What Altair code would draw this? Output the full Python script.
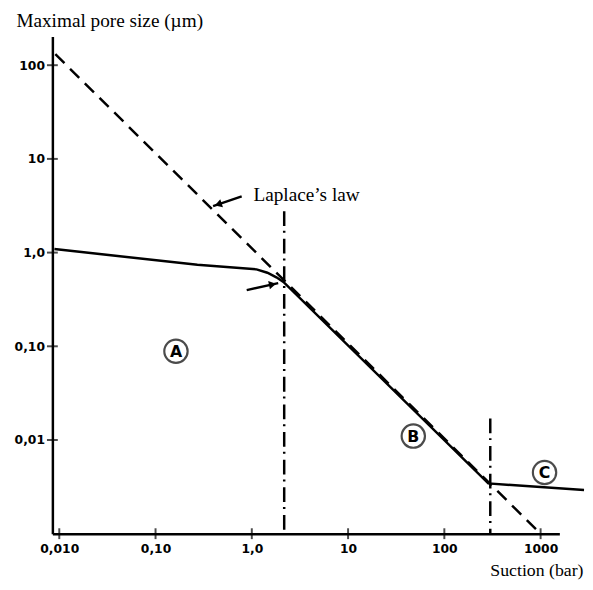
import altair as alt
import pandas as pd
import numpy as np

# ---- data ----
x_ticks = [0.01, 0.1, 1, 10, 100, 1000]
x_tick_labels = ["0,010", "0,10", "1,0", "10", "100", "1000"]
y_ticks = [100, 10, 1, 0.1, 0.01]
y_tick_labels = ["100", "10", "1,0", "0,10", "0,01"]

# measured pore-size curve (solid)
solid_suction = [0.0089, 0.272, 1.12, 1.45, 1.8, 2.13, 286, 2825]
solid_pore = [1.09, 0.743, 0.662, 0.61, 0.545, 0.487, 0.00344, 0.00292]

# Laplace's law (dashed)
laplace_suction = [0.0091, 1000]
laplace_pore = [131, 0.001]

# dash-dot boundaries between zones
vline_suction = [2.17, 300]
vline_top = [2.77, 0.017]
vline_bottom = [0.001, 0.001]

# zone markers
zone_letters = ["A", "B", "C"]
zone_suction = [0.163, 47.6, 1099]
zone_pore = [0.0886, 0.011, 0.0045]

# annotation label + arrows
label_text = ["Laplace\u2019s law"]
label_suction = [1.04]
label_pore = [3.59]
arrow_x1 = [0.785, 0.885]
arrow_y1 = [3.98, 0.398]
arrow_x2 = [0.396, 1.88]
arrow_y2 = [3.13, 0.472]
arrow_angle = [251, 78]

x_domain = [0.00848, 1566]
y_domain = [0.001, 202]

# ---- helpers ----
def label_expr(values, labels):
    expr = "''"
    for v, l in reversed(list(zip(values, labels))):
        k = int(round(np.log10(v)))
        expr = f"round(log(datum.value)/LN10) == {k} ? '{l}' : ({expr})"
    return expr

xs = alt.Scale(type="log", domain=x_domain, nice=False)
ys = alt.Scale(type="log", domain=y_domain, nice=False)

solid_df = pd.DataFrame({"s": solid_suction, "d": solid_pore})
lap_df = pd.DataFrame({"s": laplace_suction, "d": laplace_pore})
vl_df = pd.DataFrame({"s": vline_suction, "t": vline_top, "b": vline_bottom})
zone_df = pd.DataFrame({"s": zone_suction, "d": zone_pore, "l": zone_letters})
lab_df = pd.DataFrame({"s": label_suction, "d": label_pore, "l": label_text})
arr_df = pd.DataFrame({"x1": arrow_x1, "y1": arrow_y1, "x2": arrow_x2, "y2": arrow_y2, "a": arrow_angle})
f = 0.18
arr_df["hx"] = 10 ** (np.log10(arr_df.x2) - f * (np.log10(arr_df.x2) - np.log10(arr_df.x1)))
arr_df["hy"] = 10 ** (np.log10(arr_df.y2) - f * (np.log10(arr_df.y2) - np.log10(arr_df.y1)))
xt_df = pd.DataFrame({"v": x_ticks, "b": [y_domain[0]] * len(x_ticks)})
yt_df = pd.DataFrame({"v": y_ticks, "b": [x_domain[0]] * len(y_ticks)})

x_axis = alt.Axis(
    values=x_ticks, labelExpr=label_expr(x_ticks, x_tick_labels), ticks=False, grid=False,
    domainColor="black", domainWidth=2.5, labelFont="DejaVu Sans", labelFontWeight="bold",
    labelFontSize=12.5, labelColor="black", labelPadding=9, labelFlush=False,
    title="Suction (bar)", titleFont="Liberation Serif", titleFontSize=18, titleFontWeight="normal",
    titleColor="black", titleAlign="right", titleBaseline="alphabetic", titleX=538, titleY=42,
    titleAnchor="end",
)
y_axis = alt.Axis(
    values=y_ticks, labelExpr=label_expr(y_ticks, y_tick_labels), ticks=False, grid=False,
    domainColor="black", domainWidth=2.5, labelFont="DejaVu Sans", labelFontWeight="bold",
    labelFontSize=12.5, labelColor="black", labelPadding=8, labelFlush=False,
    title="Maximal pore size (\u00b5m)", titleFont="Liberation Serif", titleFontSize=19.5,
    titleFontWeight="normal", titleColor="black", titleAngle=0, titleAlign="left",
    titleBaseline="alphabetic", titleX=-37, titleY=-10, titleAnchor="start",
)

X = lambda fld: alt.X(fld, scale=xs, axis=x_axis)
Y = lambda fld: alt.Y(fld, scale=ys, axis=y_axis)

solid = alt.Chart(solid_df).mark_line(color="black", strokeWidth=2.5).encode(
    x=X("s:Q"), y=Y("d:Q"),
)
lap = alt.Chart(lap_df).mark_line(color="black", strokeWidth=2.5, strokeDash=[13, 8]).encode(
    x=X("s:Q"), y=Y("d:Q")
)
vlines = alt.Chart(vl_df).mark_rule(color="black", strokeWidth=2.5, strokeDash=[15, 5, 2, 6]).encode(
    x=X("s:Q"), y=Y("t:Q"), y2="b:Q"
)
xticks = alt.Chart(xt_df).mark_tick(orient="vertical", size=11, thickness=2, color="black").encode(
    x=X("v:Q"), y=Y("b:Q")
)
yticks = alt.Chart(yt_df).mark_tick(orient="horizontal", size=11, thickness=2, color="black").encode(
    y=Y("v:Q"), x=X("b:Q")
)
circles = alt.Chart(zone_df).mark_point(shape="circle", filled=False, size=560, strokeWidth=2.2, color="black").encode(
    x=X("s:Q"), y=Y("d:Q")
)
letters = alt.Chart(zone_df).mark_text(font="DejaVu Sans", fontSize=16, fontWeight="bold", color="black", align="center", baseline="middle", dy=1).encode(
    x=X("s:Q"), y=Y("d:Q"), text="l:N"
)
lab = alt.Chart(lab_df).mark_text(font="Liberation Serif", fontSize=19.5, color="black", align="left", baseline="alphabetic").encode(
    x=X("s:Q"), y=Y("d:Q"), text="l:N"
)
shafts = alt.Chart(arr_df).mark_rule(color="black", strokeWidth=2.5).encode(
    x=X("x1:Q"), y=Y("y1:Q"), x2="x2:Q", y2="y2:Q"
)
heads = alt.Chart(arr_df).mark_point(shape="triangle-up", filled=True, size=70, color="black", opacity=1).encode(
    x=X("hx:Q"), y=Y("hy:Q"),
    angle=alt.Angle("a:Q", scale=None),
)

chart = alt.layer(
    solid, lap, vlines, xticks, yticks, circles, letters, lab, shafts, heads
).properties(
    width=514, height=504,
    autosize=alt.AutoSizeParams(type="none"),
    padding={"left": 45, "top": 25, "right": 26, "bottom": 46},
    background="white",
).configure_view(stroke=None)

chart.save("out.html", embed_options={"renderer": "svg", "actions": False})
